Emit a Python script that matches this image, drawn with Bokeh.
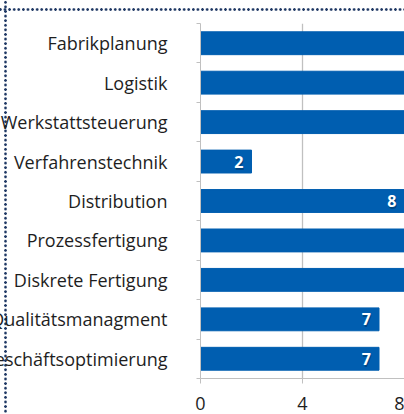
from bokeh.plotting import figure
from bokeh.models import ColumnDataSource, LabelSet, FixedTicker, Range1d, LinearAxis
from bokeh.core.properties import value
from bokeh.embed import file_html
from bokeh.resources import INLINE

categories = ["Fabrikplanung", "Logistik", "Werkstattsteuerung", "Verfahrenstechnik",
              "Distribution", "Prozessfertigung", "Diskrete Fertigung",
              "Qualitätsmanagment", "Geschäftsoptimierung"]
values = [12, 11, 10, 2, 8, 9, 9, 7, 7]
x_ticks = [0, 4, 8]

n = len(categories)
pos = [i + 0.5 for i in range(n)]
src = ColumnDataSource(dict(pos=pos, val=values, txt=[str(v) for v in values]))

FONT = "Open Sans"
SHIFT = 60  # part of the canvas hidden beyond the left window edge
p = figure(width=404 + SHIFT, height=414, x_range=Range1d(0, 8), y_range=Range1d(n, 0),
           output_backend="svg", toolbar_location=None,
           min_border_left=200 + SHIFT, min_border_right=0, min_border_top=23,
           min_border_bottom=36)
p.outline_line_color = None
p.background_fill_color = None
p.border_fill_color = None
dot = "radial-gradient(circle, #1f3864 0px, #1f3864 1px, rgba(0,0,0,0) 1.5px)"
p.styles = {
    "margin-left": f"-{SHIFT}px",
    "background-image": f"{dot}, {dot}",
    "background-size": "4.6px 4.6px, 4.6px 4.6px",
    "background-repeat": "repeat-y, repeat-x",
    "background-position": f"{SHIFT + 5 - 2.3}px 0px, {SHIFT + 5 - 2.3}px {9 - 2.3}px",
}

p.hbar(y="pos", left=0, right="val", height=0.58, color="#005eb0", source=src)

p.xaxis.ticker = FixedTicker(ticks=x_ticks)
p.xgrid.ticker = FixedTicker(ticks=x_ticks)
p.xgrid.grid_line_color = "#c0c0c0"
p.xgrid.grid_line_width = 1.3
p.ygrid.visible = False
p.xaxis.axis_line_color = "#c0c0c0"
p.xaxis.major_tick_line_color = "#c0c0c0"
p.xaxis.major_tick_out = 5
p.xaxis.major_tick_in = 0
p.xaxis.minor_tick_line_color = None
p.xaxis.major_label_text_font = FONT
p.xaxis.major_label_text_font_size = "18px"
p.xaxis.major_label_text_color = "#1e1e1e"
p.xaxis.major_label_standoff = 13

# axis with tick marks at the category boundaries
p.yaxis.ticker = FixedTicker(ticks=list(range(n + 1)))
p.yaxis.axis_line_color = "#c0c0c0"
p.yaxis.major_tick_line_color = "#c0c0c0"
p.yaxis.major_tick_out = 4
p.yaxis.major_tick_in = 0
p.yaxis.minor_tick_line_color = None
p.yaxis.major_label_text_font_size = "0px"
p.yaxis.major_label_standoff = 0

# axis carrying the category names
lab_axis = LinearAxis(ticker=FixedTicker(ticks=pos),
                      major_label_overrides={y: c for y, c in zip(pos, categories)},
                      axis_line_color=None, major_tick_line_color=None,
                      minor_tick_line_color=None, major_tick_out=0, major_tick_in=0,
                      major_label_standoff=29, major_label_text_font=FONT,
                      major_label_text_font_size="18px", major_label_text_color="#1e1e1e")
p.add_layout(lab_axis, "left")

# value labels with a faint shadow
p.add_layout(LabelSet(x="val", y="pos", text="txt", source=src, x_offset=-7, y_offset=-2,
                      text_align="right", text_baseline="middle", text_color="black",
                      text_alpha=0.25, text_font=value(FONT), text_font_style="bold",
                      text_font_size="16px"))
p.add_layout(LabelSet(x="val", y="pos", text="txt", source=src, x_offset=-8,
                      text_align="right", text_baseline="middle", text_color="white",
                      text_font=value(FONT), text_font_style="bold", text_font_size="16px"))

open("out.html", "w").write(file_html(p, INLINE))
